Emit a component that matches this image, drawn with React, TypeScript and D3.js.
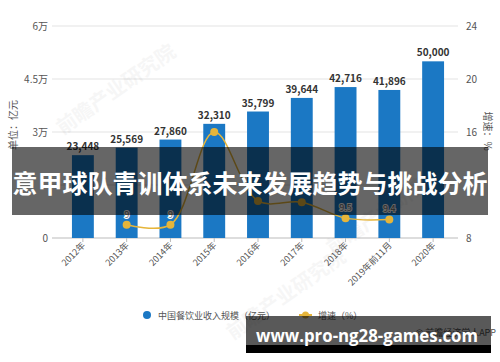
import * as d3 from "d3";
import React from "react";

// 数据
const years = ["2012年", "2013年", "2014年", "2015年", "2016年", "2017年", "2018年", "2019年前11月", "2020年"];
const revenue = [23448, 25569, 27860, 32310, 35799, 39644, 42716, 41896, 50000];
const growthYears = ["2013年", "2014年", "2015年", "2016年", "2017年", "2018年", "2019年前11月"];
const growth = [9, 9, 16, 10.8, 10.7, 9.5, 9.4];
// 2015-2017 的数值标签在原图中被遮住
const growthLabels = ["9", "9", "", "", "", "9.5", "9.4"];
const leftTicks = [0, 15000, 30000, 45000, 60000];
const leftTickLabels = ["0", "", "3万", "4.5万", "6万"];
const rightTicks = [8, 12, 16, 20, 24];
const rightTickLabels = ["8", "", "16", "20", "24"];

const W = 500;
const H = 362;
const font = "'Noto Sans CJK SC', 'Noto Sans', sans-serif";
const colorBar = "#1b78c4";
const colorLine = "#e6b53a";
const colorText = "#555";
const colorGrid = "#e3e3e3";

const App = () => {
  const x = d3.scaleBand().domain(years).range([61, 455]).paddingInner(0.5).paddingOuter(0.25);
  const y = d3.scaleLinear().domain([0, 60000]).range([238, 26]);
  const y2 = d3.scaleLinear().domain([8, 24]).range([238, 26]);
  const cx = (d) => x(d) + x.bandwidth() / 2;

  const pts = growthYears.map((d, i) => [cx(d), y2(growth[i])]);
  const line = d3.line().curve(d3.curveCatmullRom.alpha(0.5))(pts);

  const fmt = d3.format(",");

  return (
    <svg width={W} height={H} style={{ position: "absolute", left: 0, top: 0, background: "#fff" }} fontFamily={font}>
      {/* 网格 */}
      {leftTicks.map((t) => (
        <line key={t} x1={52} x2={458} y1={y(t)} y2={y(t)} stroke={t === 0 ? "#bbb" : colorGrid} strokeWidth={1} />
      ))}
      {leftTicks.map((t, i) =>
        leftTickLabels[i] ? (
          <text key={"l" + t} x={48} y={y(t) + 3.5} textAnchor="end" fontSize={10} fill={colorText}>
            {leftTickLabels[i]}
          </text>
        ) : null
      )}
      {rightTicks.map((t, i) =>
        rightTickLabels[i] ? (
          <text key={"r" + t} x={466} y={y2(t) + 3.5} fontSize={10} fill={colorText}>
            {rightTickLabels[i]}
          </text>
        ) : null
      )}
      <text transform="translate(17,125) rotate(-90)" textAnchor="middle" fontSize={10} fill={colorText}>
        单位：亿元
      </text>
      <text transform="translate(484,131) rotate(90)" textAnchor="middle" fontSize={10} fill={colorText}>
        增速：%
      </text>

      {/* 水印 */}
      {[[120, 95], [390, 215], [290, 300]].map((p, i) => (
        <text key={"w" + i} transform={`translate(${p[0]},${p[1]}) rotate(-35)`} textAnchor="middle" fontSize={20} fontWeight="bold" fill="#000" opacity={0.03}>
          前瞻产业研究院
        </text>
      ))}

      {/* 柱子 */}
      {years.map((d, i) => (
        <g key={d}>
          <rect x={x(d)} y={y(revenue[i])} width={x.bandwidth()} height={y(0) - y(revenue[i])} fill={colorBar} />
          <text x={cx(d)} y={y(revenue[i]) - 5} textAnchor="middle" fontSize={10} fontWeight="bold" fill="#333">
            {fmt(revenue[i])}
          </text>
          <line x1={cx(d)} x2={cx(d)} y1={238} y2={242} stroke="#bbb" />
          <text transform={`translate(${cx(d) + 3},${246}) rotate(-45)`} textAnchor="end" fontSize={9} fill={colorText}>
            {d}
          </text>
        </g>
      ))}

      {/* 增速线 */}
      <path d={line} fill="none" stroke={colorLine} strokeWidth={1.5} />
      {pts.map((p, i) => (
        <g key={"p" + i}>
          <circle cx={p[0]} cy={p[1]} r={4} fill={colorLine} />
          {growthLabels[i] ? (
            <text x={p[0]} y={p[1] - 7} textAnchor="middle" fontSize={9} fill="#666" stroke="#fff" strokeWidth={2} paintOrder="stroke">
              {growthLabels[i]}
            </text>
          ) : null}
        </g>
      ))}

      {/* 图例 */}
      <circle cx={147} cy={315} r={4} fill={colorBar} />
      <text x={158} y={318.5} fontSize={9} fill={colorText}>
        中国餐饮业收入规模（亿元）
      </text>
      <line x1={299} x2={312} y1={315} y2={315} stroke={colorLine} strokeWidth={2} />
      <circle cx={305.5} cy={315} r={3.5} fill={colorLine} />
      <text x={318} y={318.5} fontSize={9} fill={colorText}>
        增速（%）
      </text>
      <text x={496} y={336} textAnchor="end" fontSize={9} fill={colorText}>
        © 前瞻经济学人APP
      </text>

      {/* 标题横幅 */}
      <rect x={12} y={147} width={476} height={68} fill="#000" opacity={0.6} />
      <text x={250} y={193} textAnchor="middle" fontSize={25} fontWeight="bold" fill="#fff">
        意甲球队青训体系未来发展趋势与挑战分析
      </text>

      {/* 底部网址 */}
      <rect x={246} y={316} width={245} height={29} fill="#000" opacity={0.65} />
      <rect x={246} y={345} width={245} height={8} fill="#000" />
      <text x={256} y={342} fontSize={18} fontWeight="bold" fill="#fff" textLength={222} lengthAdjust="spacingAndGlyphs" fontFamily="'Open Sans', 'DejaVu Sans', sans-serif">
        www.pro-ng28-games.com
      </text>
    </svg>
  );
};

export default App;
